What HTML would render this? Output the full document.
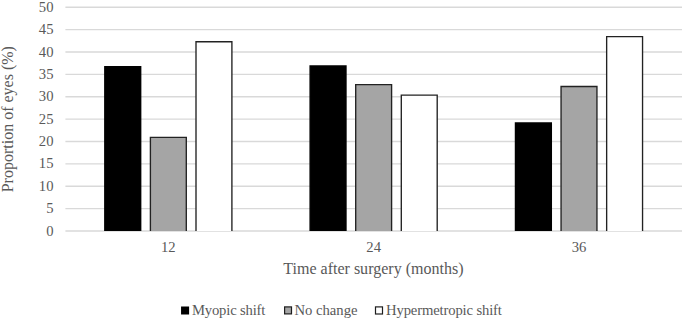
<!DOCTYPE html>
<html><head><meta charset="utf-8"><style>
html,body{margin:0;padding:0;background:#fff;}
svg{display:block;}
.t{font-family:"Liberation Serif",serif;font-size:14.67px;fill:#595959;}
</style></head><body>
<svg width="685" height="320" viewBox="0 0 685 320">
<rect width="685" height="320" fill="#fff"/>
<line x1="65.40" x2="682.00" y1="231.00" y2="231.00" stroke="#d9d9d9" stroke-width="1.4"/>
<text x="53.5" y="235.50" text-anchor="end" class="t">0</text>
<line x1="65.40" x2="682.00" y1="208.63" y2="208.63" stroke="#d9d9d9" stroke-width="1.4"/>
<text x="53.5" y="213.13" text-anchor="end" class="t">5</text>
<line x1="65.40" x2="682.00" y1="186.26" y2="186.26" stroke="#d9d9d9" stroke-width="1.4"/>
<text x="53.5" y="190.76" text-anchor="end" class="t">10</text>
<line x1="65.40" x2="682.00" y1="163.89" y2="163.89" stroke="#d9d9d9" stroke-width="1.4"/>
<text x="53.5" y="168.39" text-anchor="end" class="t">15</text>
<line x1="65.40" x2="682.00" y1="141.52" y2="141.52" stroke="#d9d9d9" stroke-width="1.4"/>
<text x="53.5" y="146.02" text-anchor="end" class="t">20</text>
<line x1="65.40" x2="682.00" y1="119.15" y2="119.15" stroke="#d9d9d9" stroke-width="1.4"/>
<text x="53.5" y="123.65" text-anchor="end" class="t">25</text>
<line x1="65.40" x2="682.00" y1="96.78" y2="96.78" stroke="#d9d9d9" stroke-width="1.4"/>
<text x="53.5" y="101.28" text-anchor="end" class="t">30</text>
<line x1="65.40" x2="682.00" y1="74.41" y2="74.41" stroke="#d9d9d9" stroke-width="1.4"/>
<text x="53.5" y="78.91" text-anchor="end" class="t">35</text>
<line x1="65.40" x2="682.00" y1="52.04" y2="52.04" stroke="#d9d9d9" stroke-width="1.4"/>
<text x="53.5" y="56.54" text-anchor="end" class="t">40</text>
<line x1="65.40" x2="682.00" y1="29.67" y2="29.67" stroke="#d9d9d9" stroke-width="1.4"/>
<text x="53.5" y="34.17" text-anchor="end" class="t">45</text>
<line x1="65.40" x2="682.00" y1="7.30" y2="7.30" stroke="#d9d9d9" stroke-width="1.4"/>
<text x="53.5" y="11.80" text-anchor="end" class="t">50</text>
<rect x="104.80" y="66.75" width="35.90" height="164.25" fill="#000000"/>
<path d="M104.80 231.00V66.75H140.70V231.00" fill="none" stroke="#000" stroke-width="1.35"/>
<rect x="150.40" y="137.40" width="35.90" height="93.60" fill="#a5a5a5"/>
<path d="M150.40 231.00V137.40H186.30V231.00" fill="none" stroke="#222" stroke-width="1.35"/>
<rect x="196.00" y="41.75" width="35.90" height="189.25" fill="#ffffff"/>
<path d="M196.00 231.00V41.75H231.90V231.00" fill="none" stroke="#222" stroke-width="1.35"/>
<text x="168.35" y="252.4" text-anchor="middle" class="t">12</text>
<rect x="310.10" y="66.00" width="35.90" height="165.00" fill="#000000"/>
<path d="M310.10 231.00V66.00H346.00V231.00" fill="none" stroke="#000" stroke-width="1.35"/>
<rect x="355.70" y="84.55" width="35.90" height="146.45" fill="#a5a5a5"/>
<path d="M355.70 231.00V84.55H391.60V231.00" fill="none" stroke="#222" stroke-width="1.35"/>
<rect x="401.30" y="95.05" width="35.90" height="135.95" fill="#ffffff"/>
<path d="M401.30 231.00V95.05H437.20V231.00" fill="none" stroke="#222" stroke-width="1.35"/>
<text x="373.65" y="252.4" text-anchor="middle" class="t">24</text>
<rect x="515.45" y="123.00" width="35.90" height="108.00" fill="#000000"/>
<path d="M515.45 231.00V123.00H551.35V231.00" fill="none" stroke="#000" stroke-width="1.35"/>
<rect x="561.05" y="86.50" width="35.90" height="144.50" fill="#a5a5a5"/>
<path d="M561.05 231.00V86.50H596.95V231.00" fill="none" stroke="#222" stroke-width="1.35"/>
<rect x="606.65" y="36.60" width="35.90" height="194.40" fill="#ffffff"/>
<path d="M606.65 231.00V36.60H642.55V231.00" fill="none" stroke="#222" stroke-width="1.35"/>
<text x="579.00" y="252.4" text-anchor="middle" class="t">36</text>
<text x="373.4" y="274.1" text-anchor="middle" class="t" style="font-size:16.05px">Time after surgery (months)</text>
<text transform="translate(13 119.2) rotate(-90)" x="0" y="0" text-anchor="middle" class="t" style="font-size:16px">Proportion of eyes (%)</text>
<rect x="181.05" y="306.5" width="8.05" height="8" fill="#000"/>
<text x="191.9" y="314.5" class="t" letter-spacing="-0.17">Myopic shift</text>
<rect x="284.6" y="306.9" width="6.9" height="7.0" fill="#a5a5a5" stroke="#1e1e1e" stroke-width="1.2"/>
<text x="294.4" y="314.5" class="t">No change</text>
<rect x="375.5" y="306.9" width="7.0" height="7.1" fill="#fff" stroke="#1e1e1e" stroke-width="1.2"/>
<text x="386" y="314.5" class="t" letter-spacing="-0.14">Hypermetropic shift</text>
</svg>
</body></html>
